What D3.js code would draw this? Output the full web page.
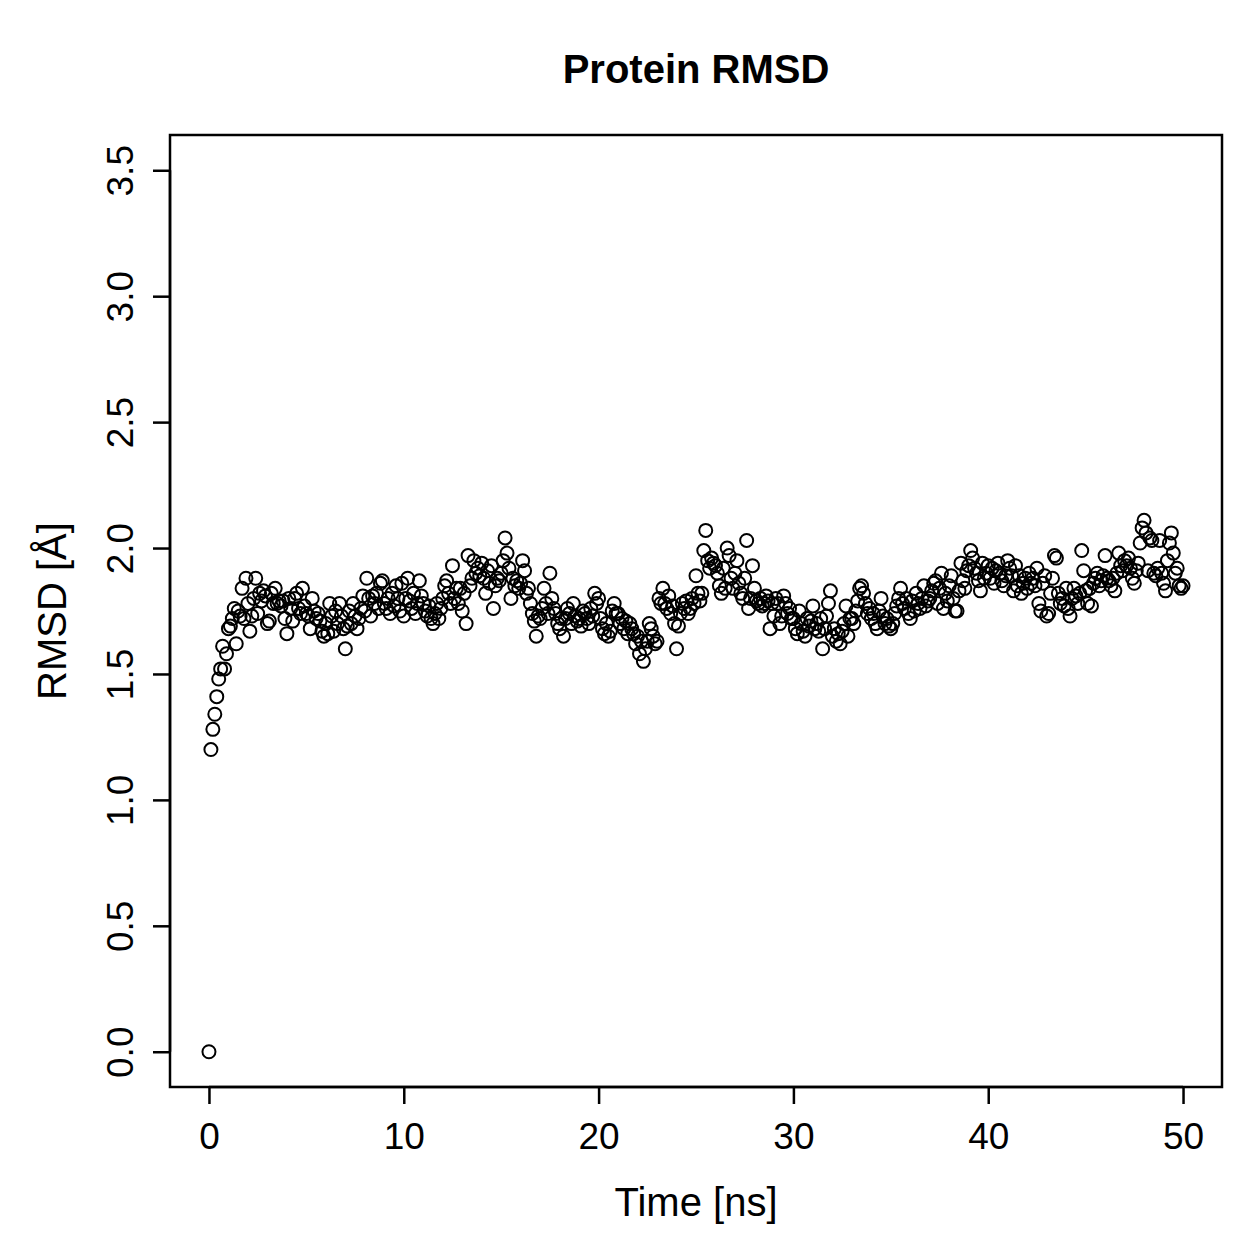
<!DOCTYPE html>
<html>
<head>
<meta charset="utf-8">
<script src="https://cdn.jsdelivr.net/npm/d3@7"></script>
<style>
  body { margin: 0; background: #fff; }
  text { font-family: "Liberation Sans", Arial, sans-serif; fill: #000; }
</style>
</head>
<body>
<svg id="chart" width="1259" height="1259"></svg>
<script>
// RMSD sampled every 0.1 ns, one row per ns
const rmsd = [
  0.00, 1.20, 1.28, 1.34, 1.41, 1.48, 1.52, 1.61, 1.52, 1.58,
  1.68, 1.69, 1.72, 1.76, 1.62, 1.75, 1.73, 1.84, 1.72, 1.88,
  1.78, 1.67, 1.73, 1.80, 1.88, 1.74, 1.82, 1.79, 1.83, 1.81,
  1.70, 1.71, 1.82, 1.78, 1.84, 1.78, 1.79, 1.77, 1.79, 1.72,
  1.66, 1.80, 1.76, 1.71, 1.80, 1.82, 1.76, 1.74, 1.84, 1.77,
  1.74, 1.73, 1.68, 1.80, 1.75, 1.72, 1.74, 1.71, 1.67, 1.65,
  1.70, 1.66, 1.78, 1.73, 1.67, 1.75, 1.70, 1.78, 1.73, 1.68,
  1.60, 1.69, 1.75, 1.70, 1.78, 1.73, 1.68, 1.72, 1.76, 1.81,
  1.75, 1.88, 1.80, 1.73, 1.81, 1.78, 1.82, 1.76, 1.86, 1.87,
  1.78, 1.76, 1.80, 1.74, 1.82, 1.77, 1.85, 1.80, 1.75, 1.86,
  1.73, 1.80, 1.88, 1.79, 1.76, 1.82, 1.74, 1.78, 1.87, 1.81,
  1.78, 1.75, 1.73, 1.77, 1.72, 1.70, 1.74, 1.78, 1.72, 1.76,
  1.80, 1.85, 1.87, 1.82, 1.78, 1.93, 1.80, 1.84, 1.78, 1.84,
  1.75, 1.82, 1.70, 1.97, 1.85, 1.88, 1.95, 1.90, 1.92, 1.89,
  1.94, 1.88, 1.82, 1.91, 1.86, 1.93, 1.76, 1.85, 1.88, 1.87,
  1.90, 1.95, 2.04, 1.98, 1.92, 1.80, 1.88, 1.85, 1.87, 1.84,
  1.86, 1.95, 1.91, 1.82, 1.84, 1.78, 1.74, 1.71, 1.65, 1.73,
  1.72, 1.76, 1.84, 1.78, 1.74, 1.90, 1.80, 1.76, 1.74, 1.70,
  1.68, 1.72, 1.65, 1.72, 1.76, 1.74, 1.70, 1.78, 1.73, 1.71,
  1.72, 1.69, 1.75, 1.74, 1.72, 1.70, 1.76, 1.73, 1.82, 1.78,
  1.80, 1.72, 1.68, 1.66, 1.70, 1.65, 1.67, 1.75, 1.78, 1.74,
  1.74, 1.70, 1.72, 1.68, 1.71, 1.66, 1.70, 1.68, 1.66, 1.62,
  1.65, 1.58, 1.63, 1.55, 1.60, 1.63, 1.70, 1.68, 1.65, 1.62,
  1.63, 1.80, 1.78, 1.84, 1.78, 1.76, 1.81, 1.74, 1.77, 1.70,
  1.60, 1.69, 1.74, 1.78, 1.76, 1.79, 1.74, 1.76, 1.80, 1.78,
  1.89, 1.82, 1.79, 1.82, 1.99, 2.07, 1.95, 1.92, 1.96, 1.94,
  1.93, 1.90, 1.85, 1.82, 1.92, 1.84, 2.00, 1.97, 1.88, 1.84,
  1.90, 1.95, 1.86, 1.82, 1.80, 1.88, 2.03, 1.76, 1.80, 1.93,
  1.84, 1.79, 1.78, 1.80, 1.77, 1.78, 1.81, 1.79, 1.68, 1.78,
  1.73, 1.80, 1.78, 1.70, 1.73, 1.81, 1.78, 1.74, 1.76, 1.72,
  1.72, 1.68, 1.66, 1.75, 1.70, 1.67, 1.65, 1.72, 1.69, 1.71,
  1.77, 1.68, 1.70, 1.67, 1.72, 1.60, 1.68, 1.73, 1.78, 1.83,
  1.65, 1.68, 1.63, 1.66, 1.62, 1.67, 1.70, 1.77, 1.65, 1.72,
  1.72, 1.70, 1.75, 1.79, 1.84, 1.85, 1.82, 1.78, 1.74, 1.76,
  1.72, 1.74, 1.70, 1.68, 1.75, 1.80, 1.73, 1.70, 1.72, 1.69,
  1.68, 1.70, 1.74, 1.77, 1.80, 1.84, 1.78, 1.76, 1.80, 1.74,
  1.72, 1.79, 1.75, 1.82, 1.78, 1.76, 1.80, 1.85, 1.77, 1.79,
  1.80, 1.83, 1.86, 1.87, 1.78, 1.84, 1.90, 1.76, 1.82, 1.79,
  1.85, 1.89, 1.80, 1.75, 1.75, 1.83, 1.94, 1.87, 1.84, 1.91,
  1.93, 1.99, 1.96, 1.92, 1.90, 1.87, 1.83, 1.94, 1.88, 1.90,
  1.93, 1.88, 1.92, 1.86, 1.91, 1.94, 1.90, 1.87, 1.85, 1.89,
  1.95, 1.92, 1.89, 1.83, 1.93, 1.85, 1.89, 1.82, 1.86, 1.88,
  1.84, 1.90, 1.86, 1.88, 1.85, 1.92, 1.78, 1.75, 1.86, 1.89,
  1.73, 1.74, 1.82, 1.88, 1.97, 1.96, 1.82, 1.78, 1.80, 1.77,
  1.84, 1.76, 1.73, 1.80, 1.84, 1.81, 1.78, 1.82, 1.99, 1.91,
  1.83, 1.78, 1.84, 1.77, 1.86, 1.88, 1.90, 1.85, 1.87, 1.89,
  1.97, 1.88, 1.87, 1.85, 1.88, 1.83, 1.90, 1.98, 1.93, 1.91,
  1.95, 1.93, 1.96, 1.92, 1.88, 1.86, 1.91, 1.94, 2.02, 2.08,
  2.11, 2.06, 1.91, 2.04, 2.03, 1.90, 1.89, 1.92, 2.03, 1.90,
  1.86, 1.83, 1.95, 2.02, 2.06, 1.98, 1.90, 1.92, 1.85, 1.84,
  1.85
];
const timeStep = 0.1;
const xTicks = [0, 10, 20, 30, 40, 50];
const yTicks = [0.0, 0.5, 1.0, 1.5, 2.0, 2.5, 3.0, 3.5];

const points = rmsd.map((v, i) => ({ t: +(i * timeStep).toFixed(1), v }));

const svg = d3.select('#chart');
const box = { left: 170, right: 1222, top: 135, bottom: 1087 };
const tickFont = 37;
const labelFont = 40;

// R style: 4% padding around the data range
const x = d3.scaleLinear().domain([-2, 52]).range([box.left, box.right]);
const y = d3.scaleLinear().domain([-0.14, 3.64]).range([box.bottom, box.top]);

svg.append('rect')
  .attr('x', box.left).attr('y', box.top)
  .attr('width', box.right - box.left).attr('height', box.bottom - box.top)
  .attr('fill', 'none').attr('stroke', '#000').attr('stroke-width', 2.5);

const xAxis = svg.append('g')
  .attr('transform', `translate(0,${box.bottom})`)
  .call(d3.axisBottom(x).tickValues(xTicks).tickSize(17).tickPadding(19).tickFormat(d3.format('d')));
xAxis.select('.domain')
  .attr('d', `M${x(0)},0H${x(50)}`).attr('stroke-width', 2.5);
xAxis.selectAll('.tick line').attr('stroke-width', 2.5);
xAxis.selectAll('.tick text')
  .attr('font-size', tickFont).attr('font-family', '"Liberation Sans", Arial, sans-serif');

const yAxis = svg.append('g')
  .attr('transform', `translate(${box.left},0)`)
  .call(d3.axisLeft(y).tickValues(yTicks).tickSize(17).tickFormat(d3.format('.1f')));
yAxis.select('.domain')
  .attr('d', `M0,${y(0)}V${y(3.5)}`).attr('stroke-width', 2.5);
yAxis.selectAll('.tick line').attr('stroke-width', 2.5);
yAxis.selectAll('.tick text')
  .attr('font-size', tickFont).attr('font-family', '"Liberation Sans", Arial, sans-serif')
  .attr('x', 0).attr('dy', 0)
  .attr('text-anchor', 'middle')
  .attr('transform', 'translate(-37,0) rotate(-90)');

svg.append('g')
  .selectAll('circle')
  .data(points)
  .join('circle')
  .attr('cx', (d) => x(d.t))
  .attr('cy', (d) => y(d.v))
  .attr('r', 6.5)
  .attr('fill', 'none')
  .attr('stroke', '#000')
  .attr('stroke-width', 2);

svg.append('text')
  .attr('x', (box.left + box.right) / 2).attr('y', 83)
  .attr('text-anchor', 'middle')
  .attr('font-size', labelFont).attr('font-weight', 'bold')
  .text('Protein RMSD');

svg.append('text')
  .attr('x', (box.left + box.right) / 2).attr('y', 1216)
  .attr('text-anchor', 'middle')
  .attr('font-size', labelFont)
  .text('Time [ns]');

svg.append('text')
  .attr('transform', `translate(66,${(box.top + box.bottom) / 2}) rotate(-90)`)
  .attr('text-anchor', 'middle')
  .attr('font-size', labelFont)
  .text('RMSD [Å]');
</script>
</body>
</html>
